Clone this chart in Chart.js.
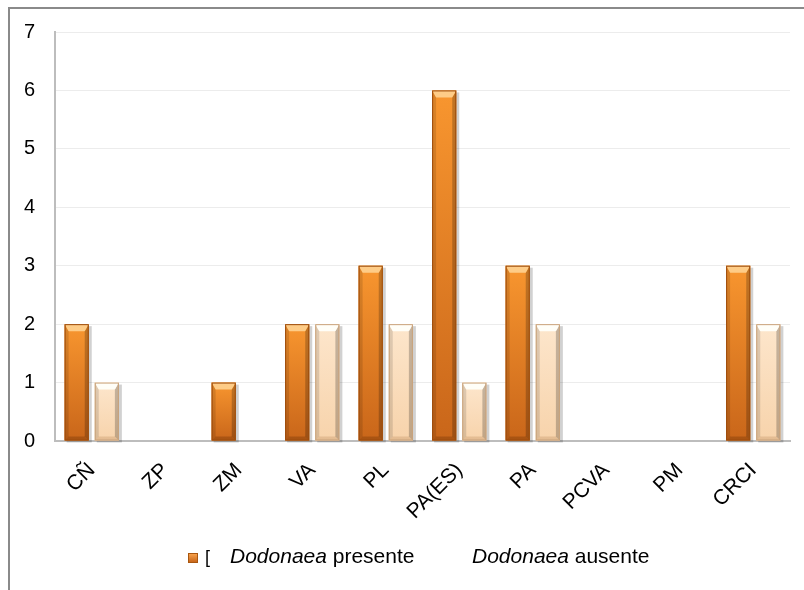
<!DOCTYPE html>
<html>
<head>
<meta charset="utf-8">
<script src="https://cdn.jsdelivr.net/npm/chart.js@4"></script>
<style>
  html, body { margin: 0; padding: 0; background: #fff; }
  #wrap { position: relative; width: 804px; height: 590px; overflow: hidden; }
  #frame { position: absolute; left: 8px; top: 7px; width: 900px; height: 700px;
           border-top: 2px solid #8a8a8a; border-left: 2px solid #8a8a8a; }
  canvas { position: absolute; left: 0; top: 0; }
  .leg { position: absolute; font-family: "Liberation Sans", Arial, sans-serif; font-size: 21px;
         color: #000; line-height: 21px; white-space: nowrap; }
  .swatch { position: absolute; width: 10px; height: 10px; box-sizing: border-box;
            background: linear-gradient(#f7a04a, #c8661a); border: 1px solid #a9560f; }
</style>
</head>
<body>
<div id="wrap">
  <div id="frame"></div>
  <canvas id="c" width="804" height="590"></canvas>
  <div class="swatch" style="left:188px; top:553px;"></div>
  <div class="leg" style="left:205px; top:547px; font-size:18px;">[</div>
  <div class="leg" id="leg0" style="left:230px; top:545px;"></div>
  <div class="leg" id="leg1" style="left:472px; top:545px;"></div>
</div>
<script>
// Sites surveyed
const categories = ['CÑ', 'ZP', 'ZM', 'VA', 'PL', 'PA(ES)', 'PA', 'PCVA', 'PM', 'CRCI'];
// Counts per site
const presente = [2, 0, 1, 2, 3, 6, 3, 0, 0, 3];
const ausente  = [1, 0, 0, 2, 2, 1, 2, 0, 0, 2];
// Legend entries: italic genus + regular qualifier
const seriesGenus = ['Dodonaea', 'Dodonaea'];
const seriesQualifier = ['presente', 'ausente'];

['leg0', 'leg1'].forEach((id, i) => {
  const el = document.getElementById(id);
  const it = document.createElement('i');
  it.textContent = seriesGenus[i];
  el.appendChild(it);
  el.appendChild(document.createTextNode(' ' + seriesQualifier[i]));
});

// Bevelled bar shading, painted over each bar element
const palettes = [
  { top: '#f8962f', bottom: '#c9661a', edge: '#9c4c0c', hi: 'rgba(255,214,150,0.85)', lo: 'rgba(110,50,5,0.35)' },
  { top: '#fde6cc', bottom: '#f7d3ab', edge: '#c9a27a', hi: 'rgba(255,255,250,0.95)', lo: 'rgba(170,120,70,0.25)' }
];
const bevel = {
  id: 'bevel',
  beforeDatasetsDraw(chart) {
    const ctx = chart.ctx;
    ctx.save();
    chart.data.datasets.forEach((ds, di) => {
      chart.getDatasetMeta(di).data.forEach(el => {
        const p = el.getProps(['x', 'y', 'base', 'width'], true);
        const h = p.base - p.y;
        if (h <= 0.5) return;
        const x0 = p.x - p.width / 2;
        ctx.fillStyle = 'rgba(0,0,0,0.18)';
        ctx.fillRect(x0 + 2, p.y + 2, p.width + 1, h);
      });
    });
    ctx.restore();
  },
  afterDatasetsDraw(chart) {
    const ctx = chart.ctx;
    ctx.save();
    chart.data.datasets.forEach((ds, di) => {
      const pal = palettes[di];
      chart.getDatasetMeta(di).data.forEach(el => {
        const p = el.getProps(['x', 'y', 'base', 'width'], true);
        const h = p.base - p.y;
        if (h <= 0.5) return;
        const x0 = p.x - p.width / 2, x1 = p.x + p.width / 2;
        const g = ctx.createLinearGradient(0, p.y, 0, p.base);
        g.addColorStop(0, pal.top);
        g.addColorStop(1, pal.bottom);
        ctx.fillStyle = g;
        ctx.fillRect(x0, p.y, p.width, h);
        const b = 4, t = 7;
        // side bevels
        ctx.fillStyle = 'rgba(0,0,0,0.12)';
        ctx.beginPath();
        ctx.moveTo(x0, p.y); ctx.lineTo(x0 + b, p.y + t); ctx.lineTo(x0 + b, p.base - b); ctx.lineTo(x0, p.base);
        ctx.closePath(); ctx.fill();
        ctx.fillStyle = 'rgba(0,0,0,0.22)';
        ctx.beginPath();
        ctx.moveTo(x1, p.y); ctx.lineTo(x1 - b, p.y + t); ctx.lineTo(x1 - b, p.base - b); ctx.lineTo(x1, p.base);
        ctx.closePath(); ctx.fill();
        // top highlight
        ctx.fillStyle = pal.hi;
        ctx.beginPath();
        ctx.moveTo(x0, p.y); ctx.lineTo(x1, p.y); ctx.lineTo(x1 - b, p.y + t); ctx.lineTo(x0 + b, p.y + t);
        ctx.closePath(); ctx.fill();
        // bottom shade
        ctx.fillStyle = pal.lo;
        ctx.beginPath();
        ctx.moveTo(x0, p.base); ctx.lineTo(x1, p.base); ctx.lineTo(x1 - b, p.base - b); ctx.lineTo(x0 + b, p.base - b);
        ctx.closePath(); ctx.fill();
        ctx.strokeStyle = pal.edge;
        ctx.lineWidth = 1;
        ctx.strokeRect(x0 + 0.5, p.y + 0.5, p.width - 1, h - 1);
      });
    });
    ctx.restore();
  }
};

const yFont = { family: '"Liberation Sans", Arial, sans-serif', size: 20 };
const xFont = { family: '"Liberation Sans", Arial, sans-serif', size: 21 };

new Chart(document.getElementById('c'), {
  type: 'bar',
  data: {
    labels: categories,
    datasets: [
      { label: seriesGenus[0] + ' ' + seriesQualifier[0], data: presente, backgroundColor: '#f08a2c',
        categoryPercentage: 0.82, barPercentage: 0.8 },
      { label: seriesGenus[1] + ' ' + seriesQualifier[1], data: ausente, backgroundColor: '#fbdcbc',
        categoryPercentage: 0.82, barPercentage: 0.8 }
    ]
  },
  plugins: [bevel],
  options: {
    responsive: false,
    animation: false,
    devicePixelRatio: 1,
    layout: { padding: { left: 10, right: 14, top: 32, bottom: 0 } },
    plugins: { legend: { display: false }, tooltip: { enabled: false } },
    scales: {
      y: {
        min: 0, max: 7,
        ticks: { stepSize: 1, color: '#000', font: yFont, padding: 20 },
        grid: { color: '#ececec', drawTicks: false },
        border: { color: '#bdbdbd', width: 2 },
        afterFit(s) { s.width = 45; }
      },
      x: {
        ticks: { color: '#000', font: xFont, maxRotation: 45, minRotation: 45, padding: 17, autoSkip: false },
        grid: { display: false, drawTicks: false },
        border: { color: '#bdbdbd', width: 2 },
        afterFit(s) { s.height = 149; }
      }
    }
  }
});
</script>
</body>
</html>
